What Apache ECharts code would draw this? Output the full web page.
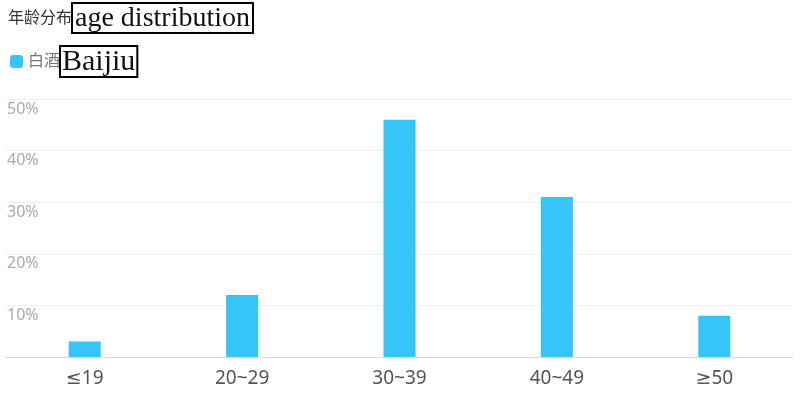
<!DOCTYPE html>
<html>
<head>
<meta charset="utf-8">
<script src="https://cdn.jsdelivr.net/npm/echarts@6/dist/echarts.min.js"></script>
<style>html,body{margin:0;padding:0;background:#fff;}#c{width:800px;height:393px;}</style>
</head>
<body>
<div id="c"></div>
<script>
const categories = ['≤19', '20~29', '30~39', '40~49', '≥50'];
const seriesName = '白酒';
const values = [3, 12, 46, 31, 8];
const yMax = 50;
const yInterval = 10;

const chart = echarts.init(document.getElementById('c'));
const cjk = '"Noto Sans", "DejaVu Sans", "Noto Sans CJK SC", sans-serif';
const serif = '"Liberation Serif", "DejaVu Serif", serif';
chart.setOption({
  animation: false,
  title: {
    text: '年龄分布{box|age distribution}',
    left: 3,
    top: -2,
    textStyle: {
      fontFamily: cjk,
      fontSize: 16,
      fontWeight: 'normal',
      color: '#333',
      rich: {
        box: {
          fontFamily: serif,
          fontSize: 28,
          color: '#111',
          borderColor: '#000',
          borderWidth: 2,
          padding: [2, 3, 0, 3]
        }
      }
    }
  },
  legend: {
    left: 5,
    top: 40,
    icon: 'roundRect',
    itemWidth: 13,
    itemHeight: 13,
    itemGap: 10,
    formatter: name => name + '{box|Baijiu}',
    textStyle: {
      fontFamily: cjk,
      fontSize: 16,
      color: '#777',
      rich: {
        box: {
          fontFamily: serif,
          fontSize: 30,
          color: '#111',
          borderColor: '#000',
          borderWidth: 2,
          padding: [1, 2, 0, 2]
        }
      }
    },
    data: [seriesName]
  },
  grid: { left: 6, right: 7, top: 99, bottom: 36, containLabel: false },
  xAxis: {
    type: 'category',
    data: categories,
    axisTick: { show: false },
    axisLine: { lineStyle: { color: '#d9d9d9' } },
    axisLabel: { color: '#555', fontSize: 19, fontFamily: cjk, margin: 12 }
  },
  yAxis: {
    type: 'value',
    min: 0,
    max: yMax,
    interval: yInterval,
    axisLine: { show: false },
    axisTick: { show: false },
    splitLine: { lineStyle: { color: '#eeeeee' } },
    axisLabel: {
      inside: true,
      showMinLabel: false,
      formatter: '{value}%',
      verticalAlign: 'top',
      align: 'left',
      margin: 1,
      padding: [2, 0, 0, 0],
      color: '#aaa',
      fontSize: 16,
      fontFamily: cjk
    }
  },
  series: [{
    name: seriesName,
    type: 'bar',
    data: values,
    barWidth: 32,
    itemStyle: { color: '#35c5f7' }
  }]
});
</script>
</body>
</html>
